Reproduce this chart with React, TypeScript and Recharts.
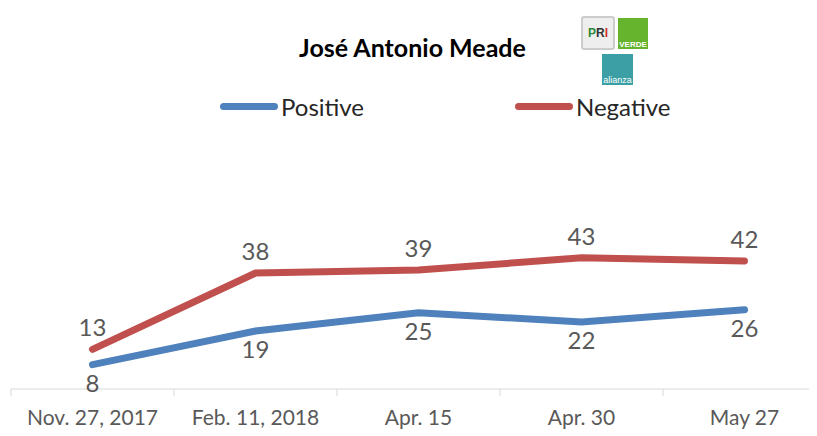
import { LabelList, LineChart, Line, XAxis, YAxis } from "recharts"

// Fechas de la encuesta
const fechas = ["Nov. 27, 2017", "Feb. 11, 2018", "Apr. 15", "Apr. 30", "May 27"]
// Opinión positiva y negativa (%)
const positivos = [8, 19, 25, 22, 26]
const negativos = [13, 38, 39, 43, 42]

const datos = fechas.map((fecha, i) => ({ fecha, positive: positivos[i], negative: negativos[i] }))

const FONT = "Lato, 'Noto Sans', sans-serif"
const GRIS = "#595959"
const AZUL = "#4F81BD"
const ROJO = "#C0504D"
const ANCHO = 830
const MARGEN = { top: 137, right: 12, left: 3, bottom: 17 }
const BANDA = (ANCHO - MARGEN.left - MARGEN.right) / fechas.length

const Tick = (props: any) => {
  const { x, y, payload } = props
  return (
    <g>
      <line x1={x - BANDA / 2} y1={y - 8} x2={x - BANDA / 2} y2={y - 1} stroke="#d9d9d9" />
      <text x={x} y={y + 28} textAnchor="middle" fill={GRIS} fontSize={21} fontFamily={FONT}>
        {payload.value}
      </text>
    </g>
  )
}

const Leyenda = () => (
  <div style={{ position: "absolute", top: 84, left: 0, width: 809, height: 30, fontFamily: FONT, fontSize: 24, color: "#262626" }}>
    {[
      { nombre: "Positive", color: AZUL, x: 212 },
      { nombre: "Negative", color: ROJO, x: 507 },
    ].map((s) => (
      <div key={s.nombre} style={{ position: "absolute", left: s.x, top: 0, display: "flex", alignItems: "center" }}>
        <span style={{ width: 58, height: 7, borderRadius: 4, background: s.color, marginRight: 3 }} />
        <span>{s.nombre}</span>
      </div>
    ))}
  </div>
)

const Logos = () => (
  <div style={{ position: "absolute", left: 565, top: 0, width: 80, height: 80 }}>
    <div style={{ position: "absolute", left: 8, top: 8, width: 30, height: 30, background: "#eee", border: "2px solid #ccc", borderRadius: 3, fontFamily: "Arial", fontWeight: "bold", fontSize: 12, display: "flex", alignItems: "center", justifyContent: "center" }}>
      <span style={{ color: "#2a8a3a" }}>P</span><span style={{ color: "#333" }}>R</span><span style={{ color: "#d0302a" }}>I</span>
    </div>
    <div style={{ position: "absolute", left: 45, top: 10, width: 30, height: 31, background: "#66b32e", color: "#fff", fontFamily: "Arial", fontWeight: "bold", fontSize: 8, display: "flex", alignItems: "flex-end", justifyContent: "center" }}>
      VERDE
    </div>
    <div style={{ position: "absolute", left: 29, top: 46, width: 31, height: 31, background: "#3d9fa6", color: "#fff", fontFamily: "Arial", fontSize: 9, display: "flex", alignItems: "flex-end", justifyContent: "center" }}>
      alianza
    </div>
  </div>
)

export default function App() {
  return (
    <div style={{ position: "relative", width: 809, height: 428, overflow: "hidden", background: "#fff" }}>
      <div style={{ position: "absolute", left: 0, width: 809, top: 24, textAlign: "center", fontFamily: FONT, fontWeight: "bold", fontSize: 25, color: "#000" }}>
        José Antonio Meade
      </div>
      <Logos />
      <Leyenda />
      <LineChart width={ANCHO} height={428} data={datos} margin={MARGEN}>
        <XAxis
          dataKey="fecha"
          tick={<Tick />}
          tickLine={false}
          axisLine={{ stroke: "#d9d9d9" }}
          height={30}
          interval={0}
          padding={{ left: BANDA / 2, right: BANDA / 2 }}
        />
        <YAxis hide domain={[0, 80]} />
        <Line dataKey="negative" name="Negative" stroke={ROJO} strokeWidth={7} strokeLinecap="round" dot={false} isAnimationActive={false}>
          <LabelList dataKey="negative" position="top" offset={13} fill={GRIS} fontSize={24} fontFamily={FONT} />
        </Line>
        <Line dataKey="positive" name="Positive" stroke={AZUL} strokeWidth={7} strokeLinecap="round" dot={false} isAnimationActive={false}>
          <LabelList dataKey="positive" position="bottom" offset={10} fill={GRIS} fontSize={24} fontFamily={FONT} />
        </Line>
      </LineChart>
    </div>
  )
}
